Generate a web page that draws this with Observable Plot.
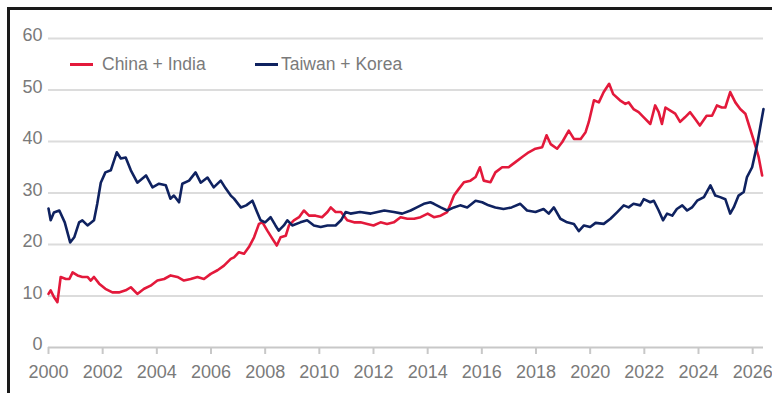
<!DOCTYPE html>
<html>
<head>
<meta charset="utf-8">
<script src="https://cdn.jsdelivr.net/npm/d3@7"></script>
<script src="https://cdn.jsdelivr.net/npm/@observablehq/plot@0.6"></script>
<style>
  html, body { margin: 0; padding: 0; background: #fff; overflow: hidden; }
  #frame { position: absolute; left: 7px; top: 7px; width: 770px; height: 400px;
           border-left: 3px solid #1a1a1a; border-top: 3px solid #1a1a1a; }
  #chart { position: absolute; left: 0; top: 0; }
  #legend { position: absolute; top: 44px; left: 0; font-family: "Liberation Sans", Arial, sans-serif;
            font-size: 17.5px; color: #7a7a7a; }
  .item { position: absolute; white-space: nowrap; display: flex; align-items: center; }
  .sw { display: inline-block; width: 23px; height: 3px; margin-right: 9px; }
</style>
</head>
<body>
<div id="frame">
  <div id="chart"></div>
  <div id="legend"></div>
</div>
<script>
const seriesNames = ["China + India", "Taiwan + Korea"];
const seriesColors = ["#e3193b", "#0f2260"];
const xTicks = [2000, 2002, 2004, 2006, 2008, 2010, 2012, 2014, 2016, 2018, 2020, 2022, 2024, 2026];
const yTicks = [0, 10, 20, 30, 40, 50, 60];

const chinaIndiaYears = [2000.0,2000.08,2000.2,2000.33,2000.45,2000.64,2000.77,2000.89,2001.07,2001.25,2001.44,2001.56,2001.68,2001.87,2002.1,2002.36,2002.6,2002.85,2003.04,2003.28,2003.53,2003.77,2004.02,2004.27,2004.51,2004.76,2005.0,2005.25,2005.5,2005.74,2005.99,2006.24,2006.48,2006.73,2006.85,2007.03,2007.22,2007.4,2007.59,2007.77,2007.9,2008.08,2008.27,2008.43,2008.57,2008.76,2008.88,2009.06,2009.25,2009.43,2009.62,2009.86,2010.1,2010.3,2010.42,2010.6,2010.8,2011.03,2011.28,2011.52,2011.77,2012.0,2012.26,2012.5,2012.75,2013.0,2013.25,2013.5,2013.74,2014.0,2014.23,2014.48,2014.72,2014.85,2014.97,2015.15,2015.34,2015.58,2015.77,2015.93,2016.07,2016.32,2016.5,2016.75,2016.99,2017.24,2017.49,2017.73,2017.98,2018.23,2018.39,2018.54,2018.78,2018.97,2019.21,2019.4,2019.65,2019.83,2019.95,2020.14,2020.32,2020.5,2020.7,2020.85,2021.1,2021.3,2021.42,2021.6,2021.79,2021.98,2022.22,2022.4,2022.53,2022.65,2022.78,2022.96,2023.14,2023.32,2023.5,2023.69,2023.87,2024.05,2024.3,2024.5,2024.68,2024.86,2024.99,2025.17,2025.36,2025.54,2025.73,2025.85,2026.04,2026.22,2026.35];
const chinaIndiaValues = [10.4,11.1,9.8,8.8,13.7,13.3,13.3,14.6,14,13.7,13.7,13,13.7,12.4,11.4,10.7,10.7,11.1,11.7,10.4,11.4,12,13,13.3,14,13.7,13,13.3,13.7,13.3,14.3,15,15.9,17.2,17.5,18.5,18.2,19.5,21.4,24,24.3,22.7,21.1,19.8,21.4,21.7,23.7,24.7,25.3,26.6,25.6,25.6,25.3,26.3,27.2,26.3,26.3,24.7,24.3,24.3,24,23.7,24.3,24,24.3,25.3,25,25,25.3,26,25.3,25.6,26.3,27.9,29.5,30.8,32.1,32.4,33.1,35,32.4,32.1,34,35,35,36,37,37.9,38.6,38.9,41.2,39.5,38.6,39.9,42.1,40.5,40.5,41.8,43.8,48,47.6,49.6,51.2,49.2,48,47.3,47.6,46.3,45.7,44.7,43.4,47,45.7,43.4,46.6,46,45.4,43.8,44.7,45.7,44.4,43.1,45,45,47,46.6,46.6,49.6,47.6,46.3,45.4,43.4,40.2,37,33.4];

const taiwanKoreaYears = [2000.0,2000.08,2000.2,2000.4,2000.6,2000.8,2000.95,2001.13,2001.25,2001.44,2001.68,2001.8,2001.93,2002.1,2002.3,2002.52,2002.67,2002.85,2003.04,2003.28,2003.6,2003.84,2004.08,2004.33,2004.5,2004.63,2004.82,2004.94,2005.19,2005.43,2005.62,2005.87,2006.1,2006.36,2006.54,2006.73,2006.85,2007.1,2007.3,2007.53,2007.7,2007.83,2008.0,2008.2,2008.38,2008.5,2008.69,2008.82,2009.0,2009.3,2009.55,2009.8,2010.05,2010.3,2010.6,2010.8,2010.97,2011.15,2011.5,2011.9,2012.4,2012.75,2013.06,2013.37,2013.6,2013.86,2014.1,2014.23,2014.48,2014.72,2014.97,2015.2,2015.46,2015.77,2016.01,2016.25,2016.5,2016.8,2017.1,2017.42,2017.67,2017.98,2018.28,2018.47,2018.66,2018.9,2019.15,2019.4,2019.58,2019.77,2020.0,2020.2,2020.5,2020.75,2021.0,2021.24,2021.42,2021.6,2021.85,2021.98,2022.22,2022.35,2022.53,2022.69,2022.84,2023.03,2023.2,2023.4,2023.58,2023.76,2023.95,2024.2,2024.44,2024.62,2024.8,2024.99,2025.17,2025.3,2025.48,2025.67,2025.79,2025.98,2026.17,2026.3,2026.4];
const taiwanKoreaValues = [27,24.7,26.2,26.6,24.3,20.4,21.4,24.3,24.7,23.7,24.7,27.9,32,34,34.4,37.9,36.7,36.9,34.4,32,33.4,31.1,31.8,31.5,28.9,29.5,28.2,31.8,32.4,34,32,33,31.1,32.4,30.9,29.5,28.9,27.2,27.6,28.5,26.3,24.7,24.3,25.3,23.7,22.7,23.7,24.7,23.7,24.3,24.7,23.7,23.4,23.7,23.7,24.7,26.3,26,26.3,26,26.6,26.3,26,26.6,27.2,27.9,28.2,27.9,27.2,26.6,27.2,27.6,27.2,28.5,28.2,27.6,27.2,26.9,27.2,27.9,26.6,26.3,26.9,26,27.2,25,24.3,24,22.6,23.7,23.4,24.2,24,25,26.3,27.6,27.2,27.9,27.6,28.8,28.2,28.5,26.6,24.7,26,25.6,26.9,27.6,26.6,27.2,28.5,29.2,31.5,29.5,29.2,28.8,26,27.2,29.5,30.2,33.1,35,39.5,43.4,46.3];

const rows = [
  ...chinaIndiaYears.map((x, i) => ({series: seriesNames[0], x, y: chinaIndiaValues[i]})),
  ...taiwanKoreaYears.map((x, i) => ({series: seriesNames[1], x, y: taiwanKoreaValues[i]}))
];

const chart = Plot.plot({
  width: 762,
  height: 383,
  marginLeft: 38,
  marginRight: 9,
  marginTop: 28,
  marginBottom: 46,
  style: {fontFamily: "'Liberation Sans', Arial, sans-serif", fontSize: "18px", background: "#fff", color: "#7a7a7a", overflow: "visible"},
  x: {domain: [2000, 2026.4], label: null},
  y: {domain: [0, 60], label: null},
  color: {domain: seriesNames, range: seriesColors},
  marks: [
    Plot.ruleY(yTicks.filter(d => d > 0), {stroke: "#dcdcdc", strokeWidth: 2}),
    Plot.ruleY([0], {stroke: "#c8c8c8", strokeWidth: 2}),
    Plot.axisX({ticks: xTicks, tickFormat: d => String(d), tickSize: 7, tickPadding: 11, stroke: "#c8c8c8", strokeWidth: 2, fill: "#7a7a7a", label: null}),
    Plot.axisY({ticks: yTicks, tickSize: 0, tickPadding: 6, dy: -3, fill: "#7a7a7a", label: null}),
    Plot.line(rows, {x: "x", y: "y", z: "series", stroke: "series", strokeWidth: 2.6, strokeLinejoin: "round"})
  ]
});
document.getElementById("chart").appendChild(chart);

// legend overlay
const legend = document.getElementById("legend");
const legendLefts = [60, 245];
seriesNames.forEach((name, i) => {
  const item = document.createElement("div");
  item.className = "item";
  item.style.left = legendLefts[i] + "px";
  const sw = document.createElement("span");
  sw.className = "sw";
  sw.style.background = seriesColors[i];
  if (i === 1) sw.style.marginRight = "3px";
  item.appendChild(sw);
  item.appendChild(document.createTextNode(name));
  legend.appendChild(item);
});
</script>
</body>
</html>
